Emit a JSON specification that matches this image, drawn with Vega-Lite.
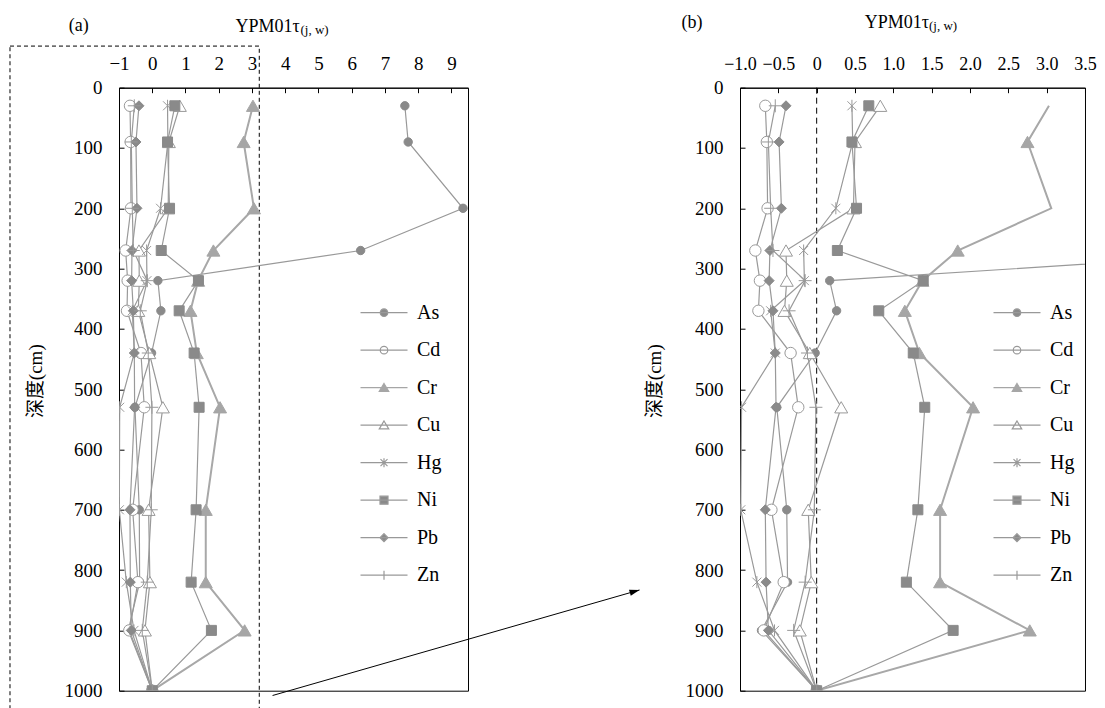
{
  "$schema": "https://vega.github.io/schema/vega-lite/v6.json",
  "background": "white",
  "padding": {"left": 8, "top": 11.7, "right": 5, "bottom": 0},
  "bounds": "flush",
  "spacing": 272,
  "resolve": {"scale": {"shape": "independent", "fill": "independent", "stroke": "independent", "strokeWidth": "independent"}, "legend": {"shape": "independent", "fill": "independent", "stroke": "independent", "strokeWidth": "independent"}},
  "config": {
    "view": {"stroke": "black", "strokeWidth": 1},
    "axis": {"grid": false, "domainColor": "black", "tickColor": "black", "labelColor": "black", "titleColor": "black", "labelFont": "Liberation Serif", "titleFont": "Liberation Serif", "labelFontSize": 19, "titleFontSize": 18, "titleFontWeight": "normal", "tickSize": -5, "labelOverlap": false, "labelFlush": false}
  },
  "datasets": {
    "d": [
      {"el":"As","depth":30,"v":7.6},{"el":"As","depth":90,"v":7.7},{"el":"As","depth":200,"v":9.35},{"el":"As","depth":270,"v":6.27},{"el":"As","depth":320,"v":0.17},{"el":"As","depth":370,"v":0.26},{"el":"As","depth":440,"v":-0.02},{"el":"As","depth":530,"v":-0.52},{"el":"As","depth":700,"v":-0.39},{"el":"As","depth":820,"v":-0.38},{"el":"As","depth":900,"v":-0.72},{"el":"As","depth":1000,"v":0},
      {"el":"Cd","depth":30,"v":-0.67},{"el":"Cd","depth":90,"v":-0.65},{"el":"Cd","depth":200,"v":-0.64},{"el":"Cd","depth":270,"v":-0.8},{"el":"Cd","depth":320,"v":-0.74},{"el":"Cd","depth":370,"v":-0.76},{"el":"Cd","depth":440,"v":-0.34},{"el":"Cd","depth":530,"v":-0.24},{"el":"Cd","depth":700,"v":-0.59},{"el":"Cd","depth":820,"v":-0.43},{"el":"Cd","depth":900,"v":-0.69},{"el":"Cd","depth":1000,"v":0},
      {"el":"Cr","depth":30,"v":3.03},{"el":"Cr","depth":90,"v":2.75},{"el":"Cr","depth":200,"v":3.06},{"el":"Cr","depth":270,"v":1.84},{"el":"Cr","depth":320,"v":1.38},{"el":"Cr","depth":370,"v":1.15},{"el":"Cr","depth":440,"v":1.34},{"el":"Cr","depth":530,"v":2.04},{"el":"Cr","depth":700,"v":1.61},{"el":"Cr","depth":820,"v":1.61},{"el":"Cr","depth":900,"v":2.78},{"el":"Cr","depth":1000,"v":0},
      {"el":"Cu","depth":30,"v":0.83},{"el":"Cu","depth":90,"v":0.5},{"el":"Cu","depth":200,"v":0.48},{"el":"Cu","depth":270,"v":-0.4},{"el":"Cu","depth":320,"v":-0.39},{"el":"Cu","depth":370,"v":-0.42},{"el":"Cu","depth":440,"v":-0.09},{"el":"Cu","depth":530,"v":0.32},{"el":"Cu","depth":700,"v":-0.11},{"el":"Cu","depth":820,"v":-0.07},{"el":"Cu","depth":900,"v":-0.22},{"el":"Cu","depth":1000,"v":0},
      {"el":"Hg","depth":30,"v":0.46},{"el":"Hg","depth":90,"v":0.47},{"el":"Hg","depth":200,"v":0.25},{"el":"Hg","depth":270,"v":-0.17},{"el":"Hg","depth":320,"v":-0.16},{"el":"Hg","depth":370,"v":-0.6},{"el":"Hg","depth":440,"v":-0.54},{"el":"Hg","depth":530,"v":-0.98},{"el":"Hg","depth":700,"v":-0.99},{"el":"Hg","depth":820,"v":-0.78},{"el":"Hg","depth":900,"v":-0.55},{"el":"Hg","depth":1000,"v":0},
      {"el":"Ni","depth":30,"v":0.68},{"el":"Ni","depth":90,"v":0.46},{"el":"Ni","depth":200,"v":0.52},{"el":"Ni","depth":270,"v":0.27},{"el":"Ni","depth":320,"v":1.39},{"el":"Ni","depth":370,"v":0.81},{"el":"Ni","depth":440,"v":1.26},{"el":"Ni","depth":530,"v":1.41},{"el":"Ni","depth":700,"v":1.32},{"el":"Ni","depth":820,"v":1.17},{"el":"Ni","depth":900,"v":1.78},{"el":"Ni","depth":1000,"v":0},
      {"el":"Pb","depth":30,"v":-0.4},{"el":"Pb","depth":90,"v":-0.49},{"el":"Pb","depth":200,"v":-0.46},{"el":"Pb","depth":270,"v":-0.61},{"el":"Pb","depth":320,"v":-0.62},{"el":"Pb","depth":370,"v":-0.57},{"el":"Pb","depth":440,"v":-0.54},{"el":"Pb","depth":530,"v":-0.53},{"el":"Pb","depth":700,"v":-0.67},{"el":"Pb","depth":820,"v":-0.66},{"el":"Pb","depth":900,"v":-0.63},{"el":"Pb","depth":1000,"v":0},
      {"el":"Zn","depth":30,"v":-0.54},{"el":"Zn","depth":90,"v":-0.63},{"el":"Zn","depth":200,"v":-0.6},{"el":"Zn","depth":270,"v":-0.57},{"el":"Zn","depth":320,"v":-0.15},{"el":"Zn","depth":370,"v":-0.36},{"el":"Zn","depth":440,"v":-0.12},{"el":"Zn","depth":530,"v":-0.01},{"el":"Zn","depth":700,"v":-0.03},{"el":"Zn","depth":820,"v":-0.15},{"el":"Zn","depth":900,"v":-0.3},{"el":"Zn","depth":1000,"v":0}
    ],
    "box": [{"x1": -4.28, "x2": 3.22, "d1": -69, "d2": 1060}],
    "arrow": [{"x1": 3.62, "d1": 1008, "x2": 14.66, "d2": 833}],
    "zero": [{"z": 0}]
  },
  "hconcat": [
    {
      "width": 349,
      "height": 603,
      "resolve": {"axis": {"x": "independent", "y": "independent"}, "scale": {"shape": "independent", "fill": "independent", "stroke": "independent", "strokeWidth": "independent"}, "legend": {"shape": "independent", "fill": "independent", "stroke": "independent", "strokeWidth": "independent"}},
      "layer": [
        {
          "data": {"name": "box"},
          "mark": {"type": "rect", "filled": false, "stroke": "black", "strokeWidth": 1, "strokeDash": [4, 3], "clip": false},
          "encoding": {
            "x": {"field": "x1", "type": "quantitative", "scale": {"domain": [-1, 9.5], "nice": false, "zero": false},
                  "axis": {"orient": "top", "title": "(a)", "labels": false, "ticks": false, "domain": false, "titleX": -50.7, "titleY": -57, "titleAlign": "left", "titleBaseline": "alphabetic", "titleAngle": 0}},
            "x2": {"field": "x2"},
            "y": {"field": "d1", "type": "quantitative", "scale": {"domain": [0, 1000], "reverse": true, "nice": false, "zero": false}, "axis": null},
            "y2": {"field": "d2"}
          }
        },
        {
          "data": {"name": "arrow"},
          "mark": {"type": "rule", "color": "black", "strokeWidth": 1, "clip": false},
          "encoding": {
            "x": {"field": "x1", "type": "quantitative", "axis": null},
            "x2": {"field": "x2"},
            "y": {"field": "d1", "type": "quantitative", "axis": null},
            "y2": {"field": "d2"}
          }
        },
        {
          "data": {"name": "arrow"},
          "mark": {"type": "point", "shape": "M0,0L-1,-0.32L-1,0.32Z", "angle": 343.9, "size": 400, "filled": true, "color": "black", "opacity": 1, "strokeWidth": 0, "clip": false},
          "encoding": {
            "x": {"field": "x2", "type": "quantitative", "axis": null},
            "y": {"field": "d2", "type": "quantitative", "axis": null}
          }
        },
        {
          "data": {"name": "d"},
          "mark": {"type": "line", "clip": true},
          "encoding": {
            "x": {"field": "v", "type": "quantitative",
                  "axis": {"orient": "top", "values": [-1,0,1,2,3,4,5,6,7,8,9], "format": "d", "labelPadding": 19, "title": "YPM01τ", "titleX": 116, "titleY": -56.6, "titleAlign": "left", "titleBaseline": "alphabetic", "titleAngle": 0}},
            "y": {"field": "depth", "type": "quantitative",
                  "axis": {"orient": "left", "values": [0,100,200,300,400,500,600,700,800,900,1000], "format": "d", "labelPadding": 22, "title": "深度(cm)", "titleFont": "Liberation Serif, Noto Sans CJK SC", "titleFontSize": 19, "titleX": -84, "titleY": 293, "titleAngle": 270, "titleAlign": "center", "titleBaseline": "middle"}},
            "detail": {"field": "el", "type": "nominal"},
            "color": {"condition": {"test": "datum.el === 'Cr'", "value": "#a8a8a8"}, "value": "#999999"},
            "strokeWidth": {"condition": {"test": "datum.el === 'Cr'", "value": 2}, "value": 1.2},
            "order": {"field": "depth", "type": "quantitative"}
          }
        },
        {
          "data": {"name": "d"},
          "mark": {"type": "point", "filled": true, "opacity": 1, "strokeWidth": 1, "clip": true},
          "encoding": {
            "x": {"field": "v", "type": "quantitative",
                  "axis": {"orient": "top", "title": "(j, w)", "titleFontSize": 13, "labels": false, "ticks": false, "domain": false, "titleX": 181, "titleY": -54, "titleAlign": "left", "titleBaseline": "alphabetic", "titleAngle": 0}},
            "y": {"field": "depth", "type": "quantitative", "axis": null},
            "shape": {"field": "el", "type": "nominal",
                      "scale": {"domain": ["As","Cd","Cr","Cu","Hg","Ni","Pb","Zn"], "range": ["circle","circle","triangle-up","triangle-up","M-0.75,-0.75L0.75,0.75M-0.75,0.75L0.75,-0.75M0,-1L0,1","square","diamond","M-1,0L1,0M0,-1L0,1"]},
                      "legend": null},
            "fill": {"condition": [{"test": "indexof(['Cd','Cu','Hg','Zn'], datum.el) >= 0", "value": "white"}, {"test": "datum.el === 'Cr'", "value": "#a6a6a6"}], "value": "#8a8a8a"},
            "stroke": {"condition": [{"test": "datum.el === 'Cr'", "value": "#a6a6a6"}, {"test": "indexof(['As','Ni','Pb'], datum.el) >= 0", "value": "#8a8a8a"}], "value": "#999999"},
            "size": {"condition": [{"test": "datum.el === 'As'", "value": 70}, {"test": "datum.el === 'Cd'", "value": 130}, {"test": "datum.el === 'Hg'", "value": 144}, {"test": "indexof(['Ni','Pb'], datum.el) >= 0", "value": 100}], "value": 169}
          }
        },
        {
          "data": {"name": "d"},
          "mark": {"type": "point", "filled": true, "opacity": 0, "size": 100},
          "encoding": {
            "x": {"field": "v", "type": "quantitative", "axis": null},
            "y": {"field": "depth", "type": "quantitative", "axis": null},
            "shape": {"field": "el", "type": "nominal",
                      "scale": {"domain": ["As","Cd","Cr","Cu","Hg","Ni","Pb","Zn"], "range": ["M-4.7,0L4.7,0M-0.75,0A0.75,0.75,0,1,1,0.75,0A0.75,0.75,0,1,1,-0.75,0Z","M-4.7,0L4.7,0M-0.75,0A0.75,0.75,0,1,1,0.75,0A0.75,0.75,0,1,1,-0.75,0Z","M-4.7,0L4.7,0M0,-0.85L0.95,0.75L-0.95,0.75Z","M-4.7,0L4.7,0M0,-0.85L0.95,0.75L-0.95,0.75Z","M-4.7,0L4.7,0M-0.7,-0.7L0.7,0.7M-0.7,0.7L0.7,-0.7M0,-0.9L0,0.9","M-4.7,0L4.7,0M-0.8,-0.8L0.8,-0.8L0.8,0.8L-0.8,0.8Z","M-4.7,0L4.7,0M0,-0.8L0.8,0L0,0.8L-0.8,0Z","M-4.7,0L4.7,0M0,-0.9L0,0.9"]},
                      "legend": {"orient": "none", "legendX": 255, "legendY": 215, "title": null, "direction": "vertical", "padding": 0, "symbolSize": 100, "labelOffset": 23, "rowPadding": 17.5, "labelFont": "Liberation Serif", "labelFontSize": 20, "labelColor": "black", "symbolOpacity": 1}},
            "fill": {"field": "el", "type": "nominal", "scale": {"domain": ["As","Cd","Cr","Cu","Hg","Ni","Pb","Zn"], "range": ["#8a8a8a","white","#a6a6a6","white","white","#8a8a8a","#8a8a8a","white"]}},
            "stroke": {"field": "el", "type": "nominal", "scale": {"domain": ["As","Cd","Cr","Cu","Hg","Ni","Pb","Zn"], "range": ["#999999","#999999","#a6a6a6","#999999","#999999","#999999","#999999","#999999"]}},
            "strokeWidth": {"field": "el", "type": "nominal", "scale": {"domain": ["As","Cd","Cr","Cu","Hg","Ni","Pb","Zn"], "range": [1.2,1.2,2,1.2,1.2,1.2,1.2,1.2]}}
          }
        }
      ]
    },
    {
      "width": 345,
      "height": 603,
      "resolve": {"axis": {"x": "independent", "y": "independent"}, "scale": {"shape": "independent", "fill": "independent", "stroke": "independent", "strokeWidth": "independent"}, "legend": {"shape": "independent", "fill": "independent", "stroke": "independent", "strokeWidth": "independent"}},
      "layer": [
        {
          "data": {"name": "zero"},
          "mark": {"type": "rule", "color": "black", "strokeWidth": 1, "strokeDash": [6, 4]},
          "encoding": {
            "x": {"field": "z", "type": "quantitative", "scale": {"domain": [-1, 3.5], "nice": false, "zero": false},
                  "axis": {"orient": "top", "title": "(b)", "labels": false, "ticks": false, "domain": false, "titleX": -59, "titleY": -60.3, "titleAlign": "left", "titleBaseline": "alphabetic", "titleAngle": 0}}
          }
        },
        {
          "data": {"name": "d"},
          "mark": {"type": "line", "clip": true},
          "encoding": {
            "x": {"field": "v", "type": "quantitative",
                  "axis": {"orient": "top", "values": [-1,-0.5,0,0.5,1,1.5,2,2.5,3,3.5], "labelExpr": "datum.value === 0 ? '0' : format(datum.value, '.1f')", "labelFontSize": 18, "labelPadding": 19, "title": "YPM01τ", "titleX": 124.3, "titleY": -60.6, "titleAlign": "left", "titleBaseline": "alphabetic", "titleAngle": 0}},
            "y": {"field": "depth", "type": "quantitative", "scale": {"domain": [0, 1000], "reverse": true, "nice": false, "zero": false},
                  "axis": {"orient": "left", "values": [0,100,200,300,400,500,600,700,800,900,1000], "format": "d", "labelPadding": 22, "title": "深度(cm)", "titleFont": "Liberation Serif, Noto Sans CJK SC", "titleFontSize": 19, "titleX": -86, "titleY": 293, "titleAngle": 270, "titleAlign": "center", "titleBaseline": "middle"}},
            "detail": {"field": "el", "type": "nominal"},
            "color": {"condition": {"test": "datum.el === 'Cr'", "value": "#a8a8a8"}, "value": "#999999"},
            "strokeWidth": {"condition": {"test": "datum.el === 'Cr'", "value": 2}, "value": 1.2},
            "order": {"field": "depth", "type": "quantitative"}
          }
        },
        {
          "data": {"name": "d"},
          "transform": [{"filter": "datum.v <= 3"}],
          "mark": {"type": "point", "filled": true, "opacity": 1, "strokeWidth": 1, "clip": true},
          "encoding": {
            "x": {"field": "v", "type": "quantitative",
                  "axis": {"orient": "top", "title": "(j, w)", "titleFontSize": 13, "labels": false, "ticks": false, "domain": false, "titleX": 188.5, "titleY": -58, "titleAlign": "left", "titleBaseline": "alphabetic", "titleAngle": 0}},
            "y": {"field": "depth", "type": "quantitative", "axis": null},
            "shape": {"field": "el", "type": "nominal",
                      "scale": {"domain": ["As","Cd","Cr","Cu","Hg","Ni","Pb","Zn"], "range": ["circle","circle","triangle-up","triangle-up","M-0.75,-0.75L0.75,0.75M-0.75,0.75L0.75,-0.75M0,-1L0,1","square","diamond","M-1,0L1,0M0,-1L0,1"]},
                      "legend": null},
            "fill": {"condition": [{"test": "indexof(['Cd','Cu','Hg','Zn'], datum.el) >= 0", "value": "white"}, {"test": "datum.el === 'Cr'", "value": "#a6a6a6"}], "value": "#8a8a8a"},
            "stroke": {"condition": [{"test": "datum.el === 'Cr'", "value": "#a6a6a6"}, {"test": "indexof(['As','Ni','Pb'], datum.el) >= 0", "value": "#8a8a8a"}], "value": "#999999"},
            "size": {"condition": [{"test": "datum.el === 'As'", "value": 70}, {"test": "datum.el === 'Cd'", "value": 130}, {"test": "datum.el === 'Hg'", "value": 144}, {"test": "indexof(['Ni','Pb'], datum.el) >= 0", "value": 100}], "value": 169}
          }
        },
        {
          "data": {"name": "d"},
          "mark": {"type": "point", "filled": true, "opacity": 0, "size": 100},
          "encoding": {
            "x": {"field": "v", "type": "quantitative", "axis": null},
            "y": {"field": "depth", "type": "quantitative", "axis": null},
            "shape": {"field": "el", "type": "nominal",
                      "scale": {"domain": ["As","Cd","Cr","Cu","Hg","Ni","Pb","Zn"], "range": ["M-4.7,0L4.7,0M-0.75,0A0.75,0.75,0,1,1,0.75,0A0.75,0.75,0,1,1,-0.75,0Z","M-4.7,0L4.7,0M-0.75,0A0.75,0.75,0,1,1,0.75,0A0.75,0.75,0,1,1,-0.75,0Z","M-4.7,0L4.7,0M0,-0.85L0.95,0.75L-0.95,0.75Z","M-4.7,0L4.7,0M0,-0.85L0.95,0.75L-0.95,0.75Z","M-4.7,0L4.7,0M-0.7,-0.7L0.7,0.7M-0.7,0.7L0.7,-0.7M0,-0.9L0,0.9","M-4.7,0L4.7,0M-0.8,-0.8L0.8,-0.8L0.8,0.8L-0.8,0.8Z","M-4.7,0L4.7,0M0,-0.8L0.8,0L0,0.8L-0.8,0Z","M-4.7,0L4.7,0M0,-0.9L0,0.9"]},
                      "legend": {"orient": "none", "legendX": 267, "legendY": 215, "title": null, "direction": "vertical", "padding": 0, "symbolSize": 100, "labelOffset": 23, "rowPadding": 17.5, "labelFont": "Liberation Serif", "labelFontSize": 20, "labelColor": "black", "symbolOpacity": 1}},
            "fill": {"field": "el", "type": "nominal", "scale": {"domain": ["As","Cd","Cr","Cu","Hg","Ni","Pb","Zn"], "range": ["#8a8a8a","white","#a6a6a6","white","white","#8a8a8a","#8a8a8a","white"]}},
            "stroke": {"field": "el", "type": "nominal", "scale": {"domain": ["As","Cd","Cr","Cu","Hg","Ni","Pb","Zn"], "range": ["#999999","#999999","#a6a6a6","#999999","#999999","#999999","#999999","#999999"]}},
            "strokeWidth": {"field": "el", "type": "nominal", "scale": {"domain": ["As","Cd","Cr","Cu","Hg","Ni","Pb","Zn"], "range": [1.2,1.2,2,1.2,1.2,1.2,1.2,1.2]}}
          }
        }
      ]
    }
  ]
}
